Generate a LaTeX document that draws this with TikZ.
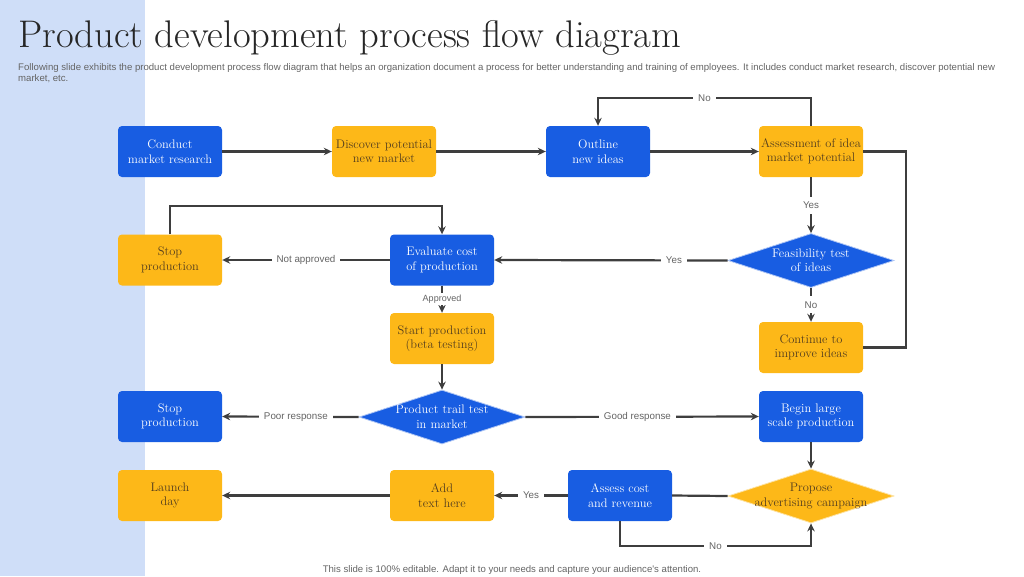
\documentclass[tikz,border=0pt]{standalone}
\usepackage{fontspec}
\usepackage{tikz}
\usetikzlibrary{shapes.geometric,arrows.meta}
\newfontfamily\lsans{Liberation Sans}
\definecolor{bb}{RGB}{24, 93, 226}
\definecolor{oo}{RGB}{253, 184, 24}
\definecolor{ll}{RGB}{207, 222, 248}
\definecolor{ln}{RGB}{62, 62, 62}
\definecolor{tg}{RGB}{100, 100, 100}
\definecolor{tb}{RGB}{84, 62, 30}

\begin{document}
\begin{tikzpicture}[x=1pt, y=1pt,
box/.style={rectangle, rounded corners=4pt, minimum width=104pt, minimum height=51pt, inner sep=1pt, align=center, font=\fontsize{12.4}{14.5}\selectfont},
bbox/.style={box, fill=bb, text=white},
obox/.style={box, fill=oo, text=tb},
dia/.style={diamond, minimum width=166pt, minimum height=54pt, inner sep=0pt, line width=0.8pt},
dtext/.style={align=center, inner sep=0pt, font=\fontsize{12.4}{14.5}\selectfont},
flow/.style={line width=2.2pt, color=ln, -{Stealth[length=8pt, width=7.5pt]}},
plain/.style={line width=2.2pt, color=ln},
lbl/.style={fill=white, inner sep=5pt, text=tg, font=\lsans\fontsize{9.8}{11}\selectfont}]
\useasboundingbox (0pt, 0pt) rectangle (1024pt, -576pt);
\fill [ll] (0pt, 0pt) rectangle (145pt, -576pt);
\node (t) [anchor=base west, inner sep=0pt, text=black!85, font=\fontsize{38.5}{44}\selectfont] at (18.0pt, -47.0pt) {Product development process flow diagram};
\node (s) [anchor=north west, inner sep=0pt, text=tg, align=left, font=\lsans\fontsize{9.6}{11}\selectfont] at (18.0pt, -63.0pt) {Following slide exhibits the product development process flow diagram that helps an organization document a process for better understanding and training of employees. It includes conduct market research, discover potential new\\market, etc.};
\node (f) [anchor=base, inner sep=0pt, text=tg, font=\lsans\fontsize{9.6}{11}\selectfont] at (512.0pt, -572.0pt) {This slide is 100\% editable. Adapt it to your needs and capture your audience's attention.};
\node (1) [bbox] at (170.0pt, -151.5pt) {Conduct\\market research};
\node (2) [obox] at (384.0pt, -151.5pt) {Discover potential\\new market};
\node (3) [bbox] at (598.0pt, -151.5pt) {Outline\\new ideas};
\node (4) [obox] at (811.0pt, -151.5pt) {Assessment of idea\\market potential};
\node (5) [obox] at (170.0pt, -260.0pt) {Stop\\production};
\node (6) [bbox] at (442.0pt, -260.0pt) {Evaluate cost\\of production};
\node (7) [dia, fill=bb, draw=bb!35, label={[dtext, text=white]center:Feasibility test\\of ideas}] at (811.0pt, -260.5pt) {};
\node (8) [obox] at (442.0pt, -338.5pt) {Start production\\(beta testing)};
\node (9) [obox] at (811.0pt, -347.5pt) {Continue to\\improve ideas};
\node (10) [bbox] at (170.0pt, -416.5pt) {Stop\\production};
\node (11) [dia, fill=bb, draw=bb!35, label={[dtext, text=white]center:Product trail test\\in market}] at (442.0pt, -417.0pt) {};
\node (12) [bbox] at (811.0pt, -416.5pt) {Begin large\\scale production};
\node (13) [obox] at (170.0pt, -495.5pt) {Launch\\day};
\node (14) [obox] at (442.0pt, -495.5pt) {Add\\text here};
\node (15) [bbox] at (620.0pt, -495.5pt) {Assess cost\\and revenue};
\node (16) [dia, fill=oo, draw=oo!40, label={[dtext, text=tb]center:Propose\\advertising campaign}] at (811.0pt, -496.0pt) {};
\draw [flow] (1) to (2);
\draw [flow] (2) to (3);
\draw [flow] (3) to (4);
\draw [flow] (4.north) -- ++(0pt, 28pt) -| node [lbl, pos=0.25] {No} (3.north);
\draw [plain] (4.east) -- ++(43pt, 0pt) |- (9.east);
\draw [flow] (4.south) -- node [lbl] {Yes} (7.north);
\draw [flow] (7.west) -- node [lbl, pos=0.23] {Yes} (6.east);
\draw [flow] (7.south) -- node [lbl] {No} (9.north);
\draw [flow] (6.west) -- node [lbl] {Not approved} (5.east);
\draw [flow] (5.north) -- ++(0pt, 28pt) -| (6.north);
\draw [flow] (6.south) -- node [lbl, inner sep=2pt, font=\lsans\fontsize{9}{10}\selectfont] {Approved} (8.north);
\draw [flow] (8.south) -- (11.north);
\draw [flow] (11.west) -- node [lbl, pos=0.46] {Poor response} (10.east);
\draw [flow] (11.east) -- node [lbl, pos=0.48] {Good response} (12.west);
\draw [flow] (12.south) -- (16.north);
\draw [plain] (16.west) -- (15.east);
\draw [flow] (15.west) -- node [lbl] {Yes} (14.east);
\draw [flow] (15.south) -- ++(0pt, -25pt) -| node [lbl, pos=0.25] {No} (16.south);
\draw [flow] (14.west) -- (13.east);
\end{tikzpicture}
\end{document}
